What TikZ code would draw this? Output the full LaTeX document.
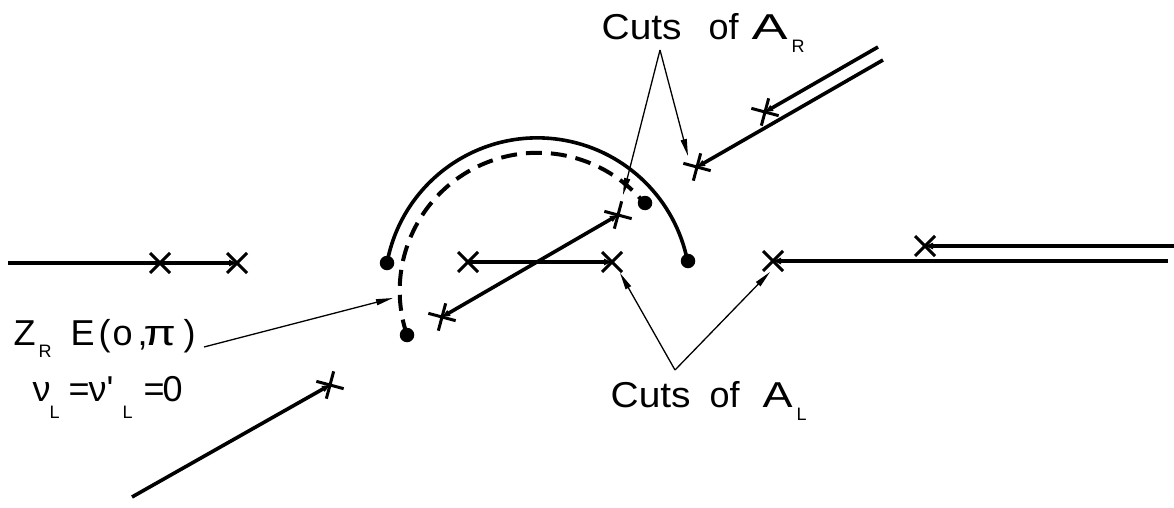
\documentclass[tikz,border=0pt]{standalone}
\usepackage{graphicx}
\usepackage{fontspec}
\setmainfont{Liberation Sans}
\newfontfamily\plainfont{Liberation Sans}
\usetikzlibrary{shapes.misc,arrows.meta,calc}
\newcommand\putat[2]{\rlap{\hspace{#1pt}#2}}
\newcommand\subtxt[1]{{\fontsize{18}{18}\selectfont #1}}
\begin{document}
\begin{tikzpicture}[x=1pt,y=-1pt,
  cutline/.style={line width=3.6pt},
  intoX/.style={-{Triangle[length=8pt,width=6pt]}},
  bothX/.style={{Triangle[length=8pt,width=6pt]}-{Triangle[length=8pt,width=6pt]}},
  branch/.style={cross out,draw,line width=3pt,minimum size=17pt,inner sep=0pt},
  blob/.style={circle,fill,inner sep=0pt,minimum size=14.5pt},
  arcline/.style={line width=3.6pt},
  dashline/.style={line width=4pt,dash pattern=on 16pt off 9pt},
  labarrow/.style={line width=1.3pt,-{Triangle[length=17pt,width=6pt]}},
  lab/.style={anchor=base west,inner sep=0pt,font=\fontsize{36}{40}\selectfont}
]
\fill[white] (0,0) rectangle (1174,508);
\useasboundingbox (0,0) rectangle (1174,508);

% branch points
\node[branch] (xL1) at (160,263) {};
\node[branch] (xL2) at (237,263) {};
\node[branch,rotate=30] (xLL) at (330,385) {};
\node[branch] (xM1) at (468,262) {};
\node[branch] (xM2) at (612,262) {};
\node[branch,rotate=30] (xD1) at (442,317) {};
\node[branch,rotate=30] (xD2) at (618,215) {};
\node[branch,rotate=30] (xU1) at (765,112) {};
\node[branch,rotate=30] (xU2) at (697,167) {};
\node[branch] (xR1) at (773,261) {};
\node[branch] (xR2) at (925,246) {};

% free ends
\coordinate (eL) at (8,263);
\coordinate (eLL) at (132,497);
\coordinate (eU1) at (878,47);
\coordinate (eU2) at (883,60);
\coordinate (eR1) at (1168,261);
\coordinate (eR2) at (1174,246);

% cuts
\draw[cutline] (eL) -- (xL1.center);
\draw[cutline,intoX] (xL1.center) -- (xL2.center);
\draw[cutline,intoX] (eLL) -- (xLL.center);
\draw[cutline,intoX] (xM1.center) -- (xM2.center);
\draw[cutline,bothX] (xD2.center) -- (xD1.center);
\draw[cutline,intoX] (eU1) -- (xU1.center);
\draw[cutline,intoX] (eU2) -- (xU2.center);
\draw[cutline,intoX] (eR1) -- (xR1.center);
\draw[cutline,intoX] (eR2) -- (xR2.center);

% end dots
\node[blob] (dA) at (387,263) {};
\node[blob] (dB) at (688,261) {};
\node[blob] (dC) at (407,335) {};
\node[blob] (dD) at (645,203) {};

% arcs
\draw[arcline] (dA.center) arc[start angle=190.5, end angle=348.8, radius=153];
\draw[dashline] (dC.center) arc[start angle=161.3, end angle=320.8, radius=138];

% labels
\node[lab] (cutsR) at (601,40) {\putat{0}{\scalebox{1.08}[1]{Cuts}}\putat{107}{of}\putat{150}{\scalebox{1.5}[1]{A}}\putat{190}{\raisebox{-13pt}{\subtxt{R}}}\hspace{205pt}};
\node[lab] (cutsL) at (610,407) {\putat{0}{\scalebox{1.08}[1]{Cuts}}\putat{99}{of}\putat{152}{\scalebox{1.25}[1]{A}}\putat{186}{\raisebox{-13pt}{\subtxt{L}}}\hspace{200pt}};
\node[lab] (zlab) at (13,345) {\putat{0}{Z}\putat{25}{\raisebox{-12pt}{\subtxt{R}}}\putat{57}{E}\putat{85}{(}\putat{99}{o}\putat{124}{,}\putat{130}{\scalebox{1.3}[1]{π}}\putat{170}{)}\hspace{182pt}};
\node[lab] (nulab) at (32,401) {\putat{0}{ν}\putat{17}{\raisebox{-17pt}{\subtxt{L}}}\putat{36}{=}\putat{56}{ν}\putat{74}{\plainfont'}\putat{90}{\raisebox{-17pt}{\subtxt{L}}}\putat{111}{=}\putat{130}{0}\hspace{152pt}};

% label arrows
\coordinate (apR) at (660,50);
\coordinate (tR1) at (623,195);
\coordinate (tR2) at (688,156);
\coordinate (apL) at (675,370);
\coordinate (tL1) at (620,273);
\coordinate (tL2) at (770,272);
\coordinate (zst) at (204,347);
\coordinate (zt) at (393,298);
\draw[labarrow] (apR) -- (tR1);
\draw[labarrow] (apR) -- (tR2);
\draw[labarrow] (apL) -- (tL1);
\draw[labarrow] (apL) -- (tL2);
\draw[labarrow] (zst) -- (zt);
\end{tikzpicture}
\end{document}
